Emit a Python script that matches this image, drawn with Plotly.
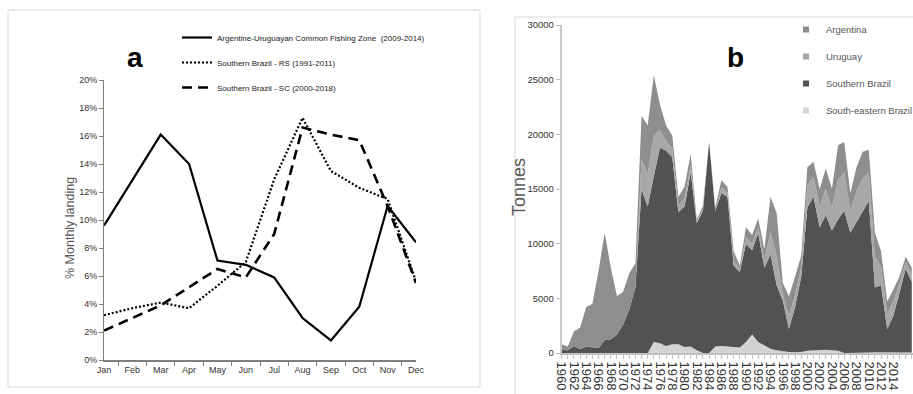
import plotly.graph_objects as go

# ---------------- panel a: monthly landing share ----------------
months = ["Jan", "Feb", "Mar", "Apr", "May", "Jun",
          "Jul", "Aug", "Sep", "Oct", "Nov", "Dec"]
common_zone = [9.6, 12.9, 16.1, 14.0, 7.1, 6.8, 5.9, 3.0, 1.4, 3.8, 11.0, 8.4]
brazil_rs = [3.2, 3.7, 4.1, 3.7, 5.3, 7.0, 12.9, 17.3, 13.5, 12.3, 11.5, 5.6]
brazil_sc = [2.1, 3.0, 3.9, 5.2, 6.5, 5.9, 9.0, 16.6, 16.1, 15.7, 11.0, 5.5]

# ---------------- panel b: annual landings (tonnes) ----------------
years = list(range(1960, 2018))
south_eastern_brazil = [
    0, 0, 0, 0, 0, 0, 0, 0, 0, 0,
    0, 0, 0, 0, 0, 1000, 900, 650, 800, 800,
    550, 600, 250, 0, 0, 600, 650, 600, 550, 500,
    1000, 1700, 1000, 700, 400, 250, 150, 100, 80, 100,
    200, 250, 250, 300, 250, 200, 0, 0, 0, 0,
    50, 80, 80, 80, 80, 80, 80, 50]
southern_brazil = [
    300, 250, 650, 350, 600, 550, 450, 1200, 1250, 1700,
    2600, 4000, 6000, 15000, 13400, 15200, 17900, 17850, 17100, 12100,
    12850, 15900, 11650, 13000, 19300, 12400, 13950, 13700, 7450, 6900,
    9000, 7700, 10000, 7100, 8600, 5950, 4650, 2100, 4120, 6900,
    13100, 14050, 11250, 12300, 10950, 12000, 13000, 11000, 12000, 13000,
    13850, 5920, 6120, 2120, 3320, 5420, 7620, 6450]
uruguay = [
    0, 0, 0, 0, 0, 0, 0, 0, 0, 0,
    0, 0, 0, 2700, 3000, 3700, 1600, 900, 800, 600,
    700, 700, 100, 200, 0, 100, 500, 400, 500, 200,
    600, 600, 500, 700, 2100, 2600, 600, 1200, 1100, 800,
    2000, 1800, 1900, 2400, 2100, 3700, 3500, 2000, 2800, 3000,
    2600, 2800, 1700, 1400, 1300, 800, 600, 700]
argentina = [
    500, 350, 1350, 1950, 3600, 3950, 7050, 9800, 6550, 3500,
    3000, 3300, 2200, 4000, 4400, 5500, 2300, 1400, 1200, 800,
    1100, 1000, 200, 300, 0, 200, 700, 500, 800, 400,
    900, 800, 800, 1000, 3200, 4000, 1000, 1800, 1700, 1100,
    1700, 1400, 1600, 1900, 1700, 3100, 2800, 1600, 2200, 2400,
    2100, 2200, 1400, 1100, 1100, 700, 500, 600]
year_ticks = list(range(1960, 2017, 2))

W, H = 913, 394
SANS = "Liberation Sans, Arial, sans-serif"


def px(x):
    return x / W


def py(y):
    return 1 - y / H


fig = go.Figure()

# panel a lines
line_specs = [
    ("Argentine-Uruguayan Common Fishing Zone  (2009-2014)", common_zone, "solid", 2.2),
    ("Southern Brazil - RS (1991-2011)", brazil_rs, "2px,2px", 2.2),
    ("Southern Brazil - SC (2000-2018)", brazil_sc, "10px,6px", 2.6),
]
for i, (name, vals, dash, w) in enumerate(line_specs):
    fig.add_trace(go.Scatter(
        x=months, y=vals, name=name, mode="lines",
        line=dict(color="black", width=w, dash=dash),
        xaxis="x", yaxis="y", legend="legend", legendgroup=f"a{i}",
    ))

# panel b stacked areas (bottom to top)
area_specs = [
    ("South-eastern Brazil", south_eastern_brazil, "#d3d3d3"),
    ("Southern Brazil", southern_brazil, "#525252"),
    ("Uruguay", uruguay, "#a8a8a8"),
    ("Argentina", argentina, "#8e8e8e"),
]
for name, vals, col in area_specs:
    fig.add_trace(go.Scatter(
        x=years, y=vals, name=name, mode="lines", stackgroup="b",
        line=dict(width=0, color=col), fillcolor=col,
        xaxis="x2", yaxis="y2", showlegend=False,
    ))
# legend entries for panel b, top of stack first
for i, (name, vals, col) in enumerate(reversed(area_specs)):
    fig.add_trace(go.Scatter(
        x=[None], y=[None], name=name, mode="markers",
        marker=dict(symbol="square", size=6, color=col),
        xaxis="x2", yaxis="y2", legend="legend2", legendgroup=f"b{i}",
    ))

fig.update_layout(
    width=W, height=H,
    margin=dict(l=0, r=0, t=0, b=0, autoexpand=False),
    paper_bgcolor="white", plot_bgcolor="white",
    font=dict(family=SANS, color="#333333"),
    xaxis=dict(
        domain=[px(104), px(416)], anchor="y", type="category",
        showline=True, linecolor="#7f7f7f", linewidth=1.5,
        ticks="outside", tickson="boundaries", ticklen=4, tickcolor="#7f7f7f",
        tickangle=0, tickfont=dict(size=9, color="#333333"),
        showgrid=False, zeroline=False,
    ),
    yaxis=dict(
        domain=[py(360), py(80)], anchor="x", range=[0, 20], dtick=2,
        ticksuffix="%", showline=True, linecolor="#7f7f7f", linewidth=1,
        ticks="outside", ticklen=4, tickcolor="#7f7f7f",
        tickfont=dict(size=9, color="#333333"),
        showgrid=False, zeroline=False,
    ),
    xaxis2=dict(
        domain=[px(561.7), 1.0], anchor="y2", range=[1960, 2017.2],
        tickvals=year_ticks, ticktext=[str(y) for y in year_ticks],
        tickangle=90, showline=True, linecolor="#bfbfbf", linewidth=2,
        ticks="outside", ticklen=4, tickcolor="#bfbfbf",
        minor=dict(dtick=1, tick0=1960, ticks="outside", ticklen=4, tickcolor="#bfbfbf"),
        tickfont=dict(size=13, color="#333333"),
        showgrid=False, zeroline=False,
    ),
    yaxis2=dict(
        domain=[py(353), py(25)], anchor="x2", range=[0, 30000], dtick=5000,
        tickformat="d", showline=True, linecolor="#c8c8c8", linewidth=2,
        ticks="outside", ticklen=4, tickcolor="#bfbfbf",
        tickfont=dict(size=9.5, color="#333333"),
        showgrid=False, zeroline=False,
    ),
    legend=dict(
        x=px(177), y=py(23), xanchor="left", yanchor="top",
        bgcolor="rgba(0,0,0,0)", font=dict(size=8, color="#222222"),
        tracegroupgap=6, traceorder="grouped",
    ),
    legend2=dict(
        x=px(786), y=py(15), xanchor="left", yanchor="top",
        bgcolor="rgba(0,0,0,0)", font=dict(size=9.5, color="#555555"),
        tracegroupgap=8, traceorder="grouped",
    ),
    annotations=[
        dict(text="<b>a</b>", x=px(135), y=py(57), xref="paper", yref="paper",
             xanchor="center", yanchor="middle", showarrow=False,
             font=dict(size=28, color="black")),
        dict(text="<b>b</b>", x=px(735), y=py(57), xref="paper", yref="paper",
             xanchor="center", yanchor="middle", showarrow=False,
             font=dict(size=28, color="black")),
        dict(text="% Monthly landing", x=px(70), y=py(228), xref="paper", yref="paper",
             xanchor="center", yanchor="middle", textangle=-90, showarrow=False,
             font=dict(size=12.5, color="#595959")),
        dict(text="Tonnes", x=px(519), y=py(187), xref="paper", yref="paper",
             xanchor="center", yanchor="middle", textangle=-90, showarrow=False,
             font=dict(size=18, color="#595959")),
    ],
    shapes=[
        dict(type="rect", xref="paper", yref="paper",
             x0=px(8), x1=px(480), y0=py(387), y1=py(10),
             line=dict(color="#d9d9d9", width=1)),
        dict(type="path", xref="paper", yref="paper",
             path=f"M {px(515)},0 L {px(515)},{py(17)} L 1,{py(17)}",
             line=dict(color="#d9d9d9", width=1)),
    ],
)

fig.write_html("out.html")
